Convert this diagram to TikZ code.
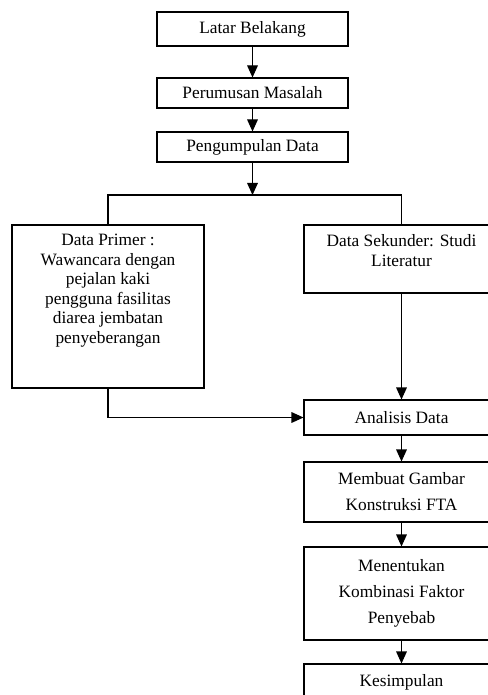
\documentclass[tikz,border=0pt]{standalone}
\usepackage{fontspec}
\setmainfont{Liberation Serif}
\usetikzlibrary{arrows.meta}
\newcommand{\topbox}[3]{\parbox[c][#1][t]{#2}{\centering #3}}

\begin{document}
\begin{tikzpicture}[
    x=0.75pt, y=-0.75pt,
    box/.style={draw, line width=0.8pt, inner sep=0pt, align=center, font=\fontsize{13}{14.6}\selectfont},
    wide/.style={font=\fontsize{13}{19.5}\selectfont},
    arr/.style={-{Triangle[width=8pt,length=9pt]}, line width=0.8pt},
    line/.style={line width=0.8pt},
  ]
  \useasboundingbox (0,0) rectangle (488,695);
  \clip (0,0) rectangle (488,695);
  % top column
  \node[box, minimum width=143.25pt, minimum height=25.5pt] (latar) at (252.5,29) {Latar Belakang};
  \node[box, minimum width=143.25pt, minimum height=22.5pt] (rumus) at (252.5,93) {Perumusan Masalah};
  \node[box, minimum width=143.25pt, minimum height=22.5pt] (kumpul) at (252.5,147) {Pengumpulan Data};
  % data sources
  \node[box] (primer) at (108,306.5) {\topbox{122.25pt}{144pt}{\vspace*{7pt}Data Primer :\\Wawancara dengan\\pejalan kaki\\pengguna fasilitas\\diarea jembatan\\penyeberangan}};
  \node[box, font=\fontsize{13}{15}\selectfont] (sekunder) at (401.5,259) {\topbox{51pt}{146.25pt}{\vspace*{7pt}Data Sekunder: Studi\\Literatur}};
  % right column
  \node[box, minimum width=146.25pt, minimum height=26.25pt] (analisis) at (401.5,417.5) {Analisis Data};
  \node[box, wide, minimum width=146.25pt, minimum height=45pt] (membuat) at (401.5,492) {Membuat Gambar\\Konstruksi FTA};
  \node[box, wide, minimum width=146.25pt, minimum height=69.75pt] (menentukan) at (401.5,593.5) {Menentukan\\Kombinasi Faktor\\Penyebab};
  \node[box, minimum width=146.25pt, minimum height=27pt] (kesimpulan) at (401.5,682) {Kesimpulan};
  \coordinate (split) at (252.5,195);
  \draw[arr] (latar) -- (rumus);
  \draw[arr] (rumus) -- (kumpul);
  \draw[arr] (kumpul) -- (split);
  \draw[line] (primer.north) -- (primer.north |- split) -- (sekunder.north |- split) -- (sekunder.north);
  \draw[arr] (primer.south) |- (analisis.west);
  \draw[arr] (sekunder) -- (analisis);
  \draw[arr] (analisis) -- (membuat);
  \draw[arr] (membuat) -- (menentukan);
  \draw[arr] (menentukan) -- (kesimpulan);
\end{tikzpicture}
\end{document}
